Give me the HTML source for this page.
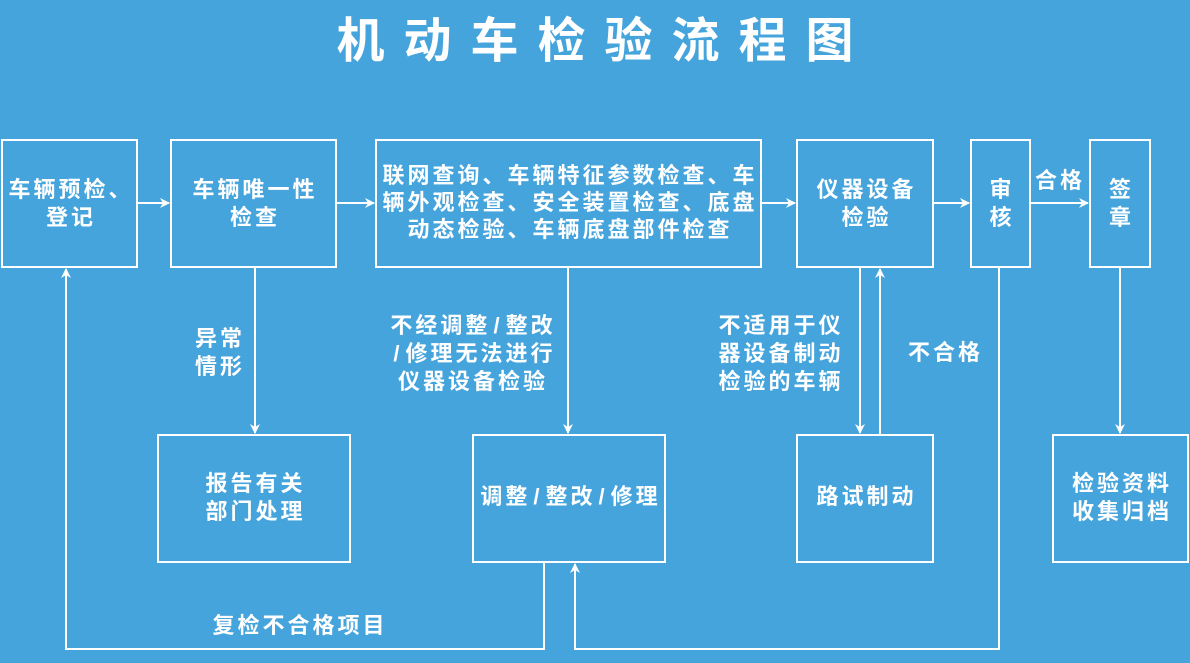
<!DOCTYPE html>
<html><head><meta charset="utf-8"><style>
html,body{margin:0;padding:0}
body{width:1190px;height:663px;background:#46a4dd;position:relative;overflow:hidden;font-family:"Liberation Sans","Noto Sans CJK SC",sans-serif;color:#fff;font-weight:bold}
.t{position:absolute;white-space:nowrap;text-align:center;font-size:22px;line-height:28px;letter-spacing:3px}
.s{margin:0 3px}
</style></head><body>
<svg width="1190" height="663" style="position:absolute;left:0;top:0">
<defs><marker id="a" markerWidth="10" markerHeight="10" refX="9" refY="5" orient="auto" markerUnits="userSpaceOnUse"><path d="M0,0 L10,5 L0,10 L3,5 Z" fill="#fff"/></marker></defs>
<g fill="none" stroke="#fff" stroke-width="2">
<rect x="2" y="140" width="135" height="127"/>
<rect x="171" y="140" width="165" height="127"/>
<rect x="376" y="140" width="385" height="127"/>
<rect x="797" y="140" width="136" height="127"/>
<rect x="971" y="140" width="59" height="127"/>
<rect x="1090" y="140" width="60" height="127"/>
<rect x="158" y="435" width="192" height="127"/>
<rect x="473" y="435" width="192" height="127"/>
<rect x="797" y="435" width="136" height="127"/>
<rect x="1053" y="435" width="135" height="127"/>
<line x1="137" y1="203" x2="169" y2="203" marker-end="url(#a)"/>
<line x1="336" y1="203" x2="374" y2="203" marker-end="url(#a)"/>
<line x1="761" y1="203" x2="795" y2="203" marker-end="url(#a)"/>
<line x1="933" y1="203" x2="969" y2="203" marker-end="url(#a)"/>
<line x1="1030" y1="203" x2="1088" y2="203" marker-end="url(#a)"/>
<line x1="255" y1="267" x2="255" y2="433" marker-end="url(#a)"/>
<line x1="568" y1="267" x2="568" y2="433" marker-end="url(#a)"/>
<line x1="860" y1="267" x2="860" y2="433" marker-end="url(#a)"/>
<line x1="880" y1="435" x2="880" y2="269" marker-end="url(#a)"/>
<line x1="1120" y1="267" x2="1120" y2="433" marker-end="url(#a)"/>
<polyline points="544,562 544,649 66,649 66,269" marker-end="url(#a)"/>
<polyline points="999,267 999,649 575,649 575,564" marker-end="url(#a)"/>
</g></svg>
<div class="t" style="left:0;width:1190px;top:12px;font-size:48px;line-height:60px;letter-spacing:19px;padding-left:19px;box-sizing:border-box">机动车检验流程图</div>
<div class="t" style="left:2px;width:138px;top:176px">车辆预检、<br>登记</div>
<div class="t" style="left:171px;width:168px;top:176px">车辆唯一性<br>检查</div>
<div class="t" style="left:376px;width:388px;top:162px;line-height:27px">联网查询、车辆特征参数检查、车<br>辆外观检查、安全装置检查、底盘<br>动态检验、车辆底盘部件检查</div>
<div class="t" style="left:797px;width:139px;top:176px">仪器设备<br>检验</div>
<div class="t" style="left:971px;width:62px;top:176px">审<br>核</div>
<div class="t" style="left:1090px;width:63px;top:176px">签<br>章</div>
<div class="t" style="left:1030px;width:60px;top:167px">合格</div>
<div class="t" style="left:183px;width:74px;top:325px">异常<br>情形</div>
<div class="t" style="left:378px;width:190px;top:312px">不经调整<span class="s">/</span>整改<br><span class="s">/</span>修理无法进行<br>仪器设备检验</div>
<div class="t" style="left:705px;width:152px;top:312px">不适用于仪<br>器设备制动<br>检验的车辆</div>
<div class="t" style="left:898px;width:95px;top:339px">不合格</div>
<div class="t" style="left:158px;width:195px;top:470px">报告有关<br>部门处理</div>
<div class="t" style="left:473px;width:195px;top:483px">调整<span class="s">/</span>整改<span class="s">/</span>修理</div>
<div class="t" style="left:797px;width:139px;top:483px">路试制动</div>
<div class="t" style="left:1053px;width:138px;top:470px">检验资料<br>收集归档</div>
<div class="t" style="left:185px;width:230px;top:612px">复检不合格项目</div>
</body></html>
